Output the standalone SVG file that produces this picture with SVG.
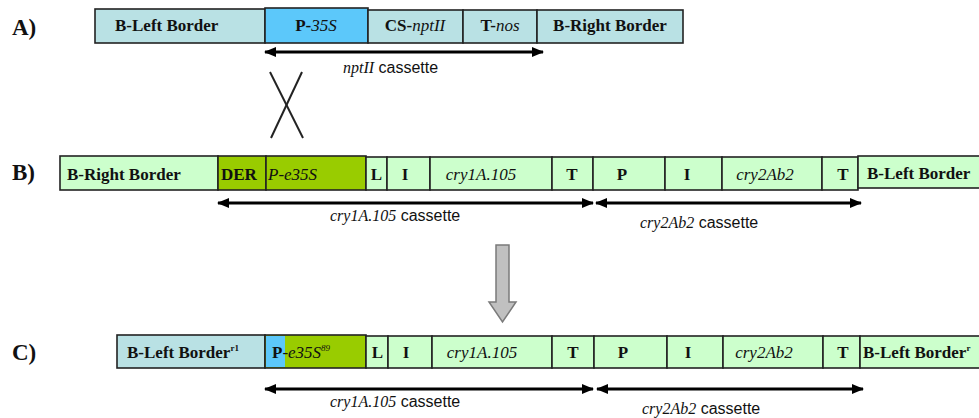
<svg xmlns="http://www.w3.org/2000/svg" width="979" height="418" viewBox="0 0 979 418">
<defs>
<marker id="ah" markerUnits="userSpaceOnUse" markerWidth="12" markerHeight="10" refX="11" refY="5" orient="auto-start-reverse" viewBox="0 0 12 10">
<path d="M0,0 L12,5 L0,10 z" fill="#000"/>
</marker>
</defs>
<style>
.seg{stroke:#222;stroke-width:1.6}
.lb{fill:#b9e1e4}
.bl{fill:#5cc8fa}
.lg{fill:#ccffcc}
.og{fill:#99cc00}
.t{font-family:"Liberation Serif",serif;font-size:17px;font-weight:bold;fill:#111}
.c{text-anchor:middle}
.i{font-style:italic;font-weight:normal}
.row{font-family:"Liberation Serif",serif;font-size:23px;font-weight:bold;fill:#111}
.cap{font-family:"Liberation Serif",serif;font-size:16px;fill:#111}
.ss{font-family:"Liberation Sans",sans-serif;font-style:normal}
.arr{stroke:#000;stroke-width:3;fill:none}
.sup{font-size:9px}
</style>
<text class="row" x="12" y="35">A)</text>
<text class="row" x="12" y="180">B)</text>
<text class="row" x="12" y="360">C)</text>

<!-- Row A -->
<g id="a-blb"><rect class="seg lb" x="95" y="9" width="170" height="34"/><text class="t" x="115" y="31">B-Left Border</text></g>
<g id="a-p35s"><rect class="seg bl" x="265" y="8" width="103" height="35"/><text class="t c" x="316" y="31">P-<tspan class="i">35S</tspan></text></g>
<g id="a-csnpt"><rect class="seg lb" x="368" y="10" width="95" height="33"/><text class="t c" x="415" y="31">CS-<tspan class="i">nptII</tspan></text></g>
<g id="a-tnos"><rect class="seg lb" x="463" y="10" width="74" height="33"/><text class="t c" x="500" y="31">T-<tspan class="i">nos</tspan></text></g>
<g id="a-brb"><rect class="seg lb" x="537" y="10" width="146" height="33"/><text class="t c" x="610" y="31">B-Right Border</text></g>

<!-- Row B -->
<g id="b-brb"><rect class="seg lg" x="60" y="156" width="158" height="34"/><text class="t" x="67" y="180">B-Right Border</text></g>
<g id="b-der"><rect class="seg og" x="218" y="156" width="48" height="34"/><text class="t" x="221" y="180">DER</text></g>
<g id="b-pe35s"><rect class="seg og" x="266" y="156" width="100" height="34"/><text class="t i" x="268" y="180">P-e35S</text></g>
<g id="b-l"><rect class="seg lg" x="366" y="157" width="21" height="33"/><text class="t c" x="376.5" y="180">L</text></g>
<g id="b-i1"><rect class="seg lg" x="387" y="157" width="43" height="33"/><text class="t c" x="405" y="180">I</text></g>
<g id="b-cry1"><rect class="seg lg" x="430" y="157" width="122" height="33"/><text class="t c i" x="481" y="180">cry1A.105</text></g>
<g id="b-t1"><rect class="seg lg" x="552" y="157" width="41" height="33"/><text class="t c" x="572" y="180">T</text></g>
<g id="b-p"><rect class="seg lg" x="593" y="157" width="72" height="33"/><text class="t c" x="622" y="180">P</text></g>
<g id="b-i2"><rect class="seg lg" x="665" y="157" width="57" height="33"/><text class="t c" x="687" y="180">I</text></g>
<g id="b-cry2"><rect class="seg lg" x="722" y="157" width="100" height="33"/><text class="t c i" x="765" y="180">cry2Ab2</text></g>
<g id="b-t2"><rect class="seg lg" x="822" y="157" width="36" height="33"/><text class="t c" x="843" y="180">T</text></g>
<g id="b-blb"><rect class="seg lg" x="858" y="156" width="124" height="32"/><text class="t" x="867" y="179">B-Left Border</text></g>

<!-- Row C -->
<g id="c-blb"><rect class="seg lb" x="117" y="335" width="148" height="33"/><text class="t" x="127" y="358">B-Left Border<tspan class="sup" dy="-7">r1</tspan></text></g>
<g id="c-pe35s"><rect class="seg og" x="265" y="335" width="101" height="33"/><rect class="bl" x="266" y="336" width="19" height="31"/><text class="t" x="272" y="358">P<tspan class="i">-e35S</tspan><tspan class="sup i" dy="-7">89</tspan></text></g>
<g id="c-l"><rect class="seg lg" x="366" y="336" width="22" height="32"/><text class="t c" x="377.5" y="358">L</text></g>
<g id="c-i1"><rect class="seg lg" x="388" y="336" width="44" height="32"/><text class="t c" x="406" y="358">I</text></g>
<g id="c-cry1"><rect class="seg lg" x="432" y="336" width="120" height="32"/><text class="t c i" x="482" y="358">cry1A.105</text></g>
<g id="c-t1"><rect class="seg lg" x="552" y="336" width="42" height="32"/><text class="t c" x="573" y="358">T</text></g>
<g id="c-p"><rect class="seg lg" x="594" y="336" width="73" height="32"/><text class="t c" x="623" y="358">P</text></g>
<g id="c-i2"><rect class="seg lg" x="667" y="336" width="56" height="32"/><text class="t c" x="688" y="358">I</text></g>
<g id="c-cry2"><rect class="seg lg" x="723" y="336" width="100" height="32"/><text class="t c i" x="764" y="358">cry2Ab2</text></g>
<g id="c-t2"><rect class="seg lg" x="823" y="336" width="37" height="32"/><text class="t c" x="843" y="358">T</text></g>
<g id="c-blb2"><rect class="seg lg" x="860" y="336" width="122" height="32"/><text class="t" x="863" y="358">B-Left Border<tspan class="sup" dy="-7">r</tspan></text></g>

<!-- Connectors -->
<g id="connectors">
<line class="arr" x1="265" y1="52" x2="543" y2="52" marker-start="url(#ah)" marker-end="url(#ah)"/>
<line class="arr" x1="218" y1="203" x2="593" y2="203" marker-start="url(#ah)" marker-end="url(#ah)"/>
<line class="arr" x1="596" y1="203" x2="861" y2="203" marker-start="url(#ah)" marker-end="url(#ah)"/>
<line class="arr" x1="265" y1="389" x2="593" y2="389" marker-start="url(#ah)" marker-end="url(#ah)"/>
<line class="arr" x1="597" y1="389" x2="863" y2="389" marker-start="url(#ah)" marker-end="url(#ah)"/>
<line x1="270" y1="72" x2="303" y2="138" stroke="#222" stroke-width="2"/>
<line x1="302" y1="72" x2="271" y2="138" stroke="#222" stroke-width="2"/>
<path d="M496,245 L509,245 L509,302 L516,302 L502.5,322 L489,302 L496,302 z" fill="#c0c0c0" stroke="#7a7a7a" stroke-width="1.5"/>
</g>

<!-- Cassette labels -->
<text class="cap" x="343" y="73"><tspan font-style="italic">nptII</tspan><tspan class="ss"> cassette</tspan></text>
<text class="cap" x="330" y="221"><tspan font-style="italic">cry1A.105</tspan><tspan class="ss"> cassette</tspan></text>
<text class="cap" x="640" y="228"><tspan font-style="italic">cry2Ab2</tspan><tspan class="ss"> cassette</tspan></text>
<text class="cap" x="330" y="407"><tspan font-style="italic">cry1A.105</tspan><tspan class="ss"> cassette</tspan></text>
<text class="cap" x="642" y="414"><tspan font-style="italic">cry2Ab2</tspan><tspan class="ss"> cassette</tspan></text>
</svg>
